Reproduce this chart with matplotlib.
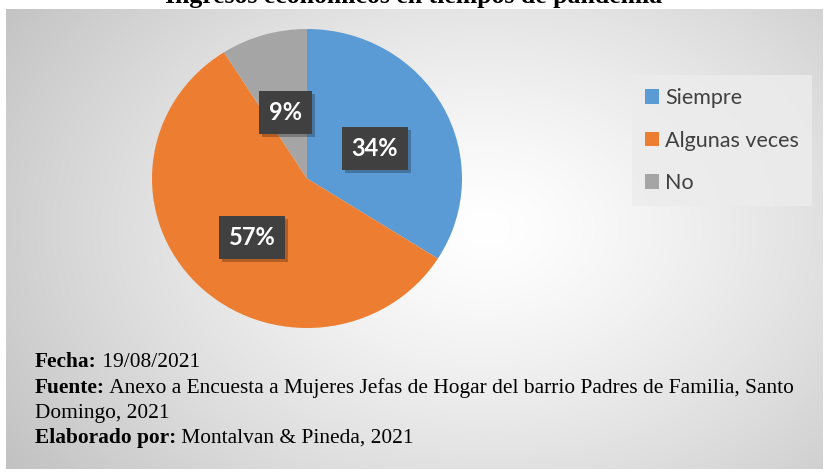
import numpy as np
import matplotlib
matplotlib.use("Agg")
import matplotlib.pyplot as plt
from matplotlib.transforms import ScaledTranslation

categories = ["Siempre", "Algunas veces", "No"]
values = [34, 57, 9]
colors = ["#5B9BD5", "#ED7D31", "#A5A5A5"]
title = "Ingresos económicos en tiempos de pandemia"

W, H = 828, 473
fig = plt.figure(figsize=(W / 100, H / 100), dpi=100)
fig.patch.set_facecolor("white")

def px(x0, y0, x1, y1):
    return [x0 / W, 1 - y1 / H, (x1 - x0) / W, (y1 - y0) / H]

# gradient background
bg = fig.add_axes(px(6, 9, 823, 469))
bg.set_axis_off()
gx, gy = np.meshgrid(np.linspace(0, 817, 400), np.linspace(0, 460, 240))
cx, cy = 480, 220
d = np.sqrt(((gx - cx) / 580) ** 2 + ((gy - cy) / 420) ** 2)
d = np.clip(d, 0, 1.2)
val = 1.0 - 0.24 * d ** 1.3
img = np.dstack([val, val, val])
bg.imshow(img, aspect="auto", extent=[0, 1, 0, 1], interpolation="bilinear")

# title (cut off at top as in the reference)
fig.text(414 / W, 1 - 3 / H, title, ha="center", va="baseline",
         fontsize=18.5, fontweight="bold", family="Liberation Serif")

# pie
ax = fig.add_axes(px(152, 29, 462, 328))
wedges, texts, autotexts = ax.pie(values, colors=colors, startangle=90, counterclock=False,
                                  autopct="%1.0f%%", pctdistance=0.5,
                                  wedgeprops=dict(linewidth=0))
ax.set_aspect("auto")
ax.set_xlim(-1, 1)
ax.set_ylim(-1, 1)
lab_fs = 17
shift = ScaledTranslation(0, -6 / 100, fig.dpi_scale_trans)
for t in autotexts:
    x, y = t.get_position()
    t.set_color("white")
    t.set_fontsize(lab_fs)
    t.set_fontweight("bold")
    t.set_family("Lato")
    t.set_bbox(dict(facecolor="#404040", edgecolor="none", boxstyle="square,pad=0.42"))
    t.set_zorder(5)
    t.set_transform(ax.transData + shift)
    sh = ax.text(x, y, t.get_text(), ha="center", va="center", fontsize=lab_fs, fontweight="bold",
                 family="Lato", color=(0, 0, 0, 0),
                 bbox=dict(facecolor="black", alpha=0.25, edgecolor="none", boxstyle="square,pad=0.42"),
                 zorder=4)
    sh.set_transform(ax.transData + shift + ScaledTranslation(3 / 100, -3 / 100, fig.dpi_scale_trans))

# legend
leg = fig.legend(wedges, categories, loc="upper left", bbox_to_anchor=(632 / W, 1 - 75 / H),
                 frameon=True, facecolor="#ececec", edgecolor="none", framealpha=0.85,
                 fancybox=False, handlelength=0.65, handleheight=0.65, handletextpad=0.3,
                 labelspacing=1.05, borderpad=0.6, borderaxespad=0,
                 prop=dict(family="Lato", size=15.5))
for t in leg.get_texts():
    t.set_color("#404040")

# footer
fs = 15.4
lines = [
    ("Fecha:", " 19/08/2021", 367),
    ("Fuente:", " Anexo a Encuesta a Mujeres Jefas de Hogar del barrio Padres de Familia, Santo", 393),
    ("", "Domingo, 2021", 418),
    ("Elaborado por:", " Montalvan & Pineda, 2021", 443),
]
renderer = fig.canvas.get_renderer()
for bold, rest, yb in lines:
    x = 35 / W
    if bold:
        tb = fig.text(x, 1 - yb / H, bold, ha="left", va="baseline", fontsize=fs,
                      fontweight="bold", family="Liberation Serif")
        bb = tb.get_window_extent(renderer)
        x = bb.x1 / W
    fig.text(x, 1 - yb / H, rest, ha="left", va="baseline", fontsize=fs,
             family="Liberation Serif")

fig.savefig("out.png", dpi=100)
